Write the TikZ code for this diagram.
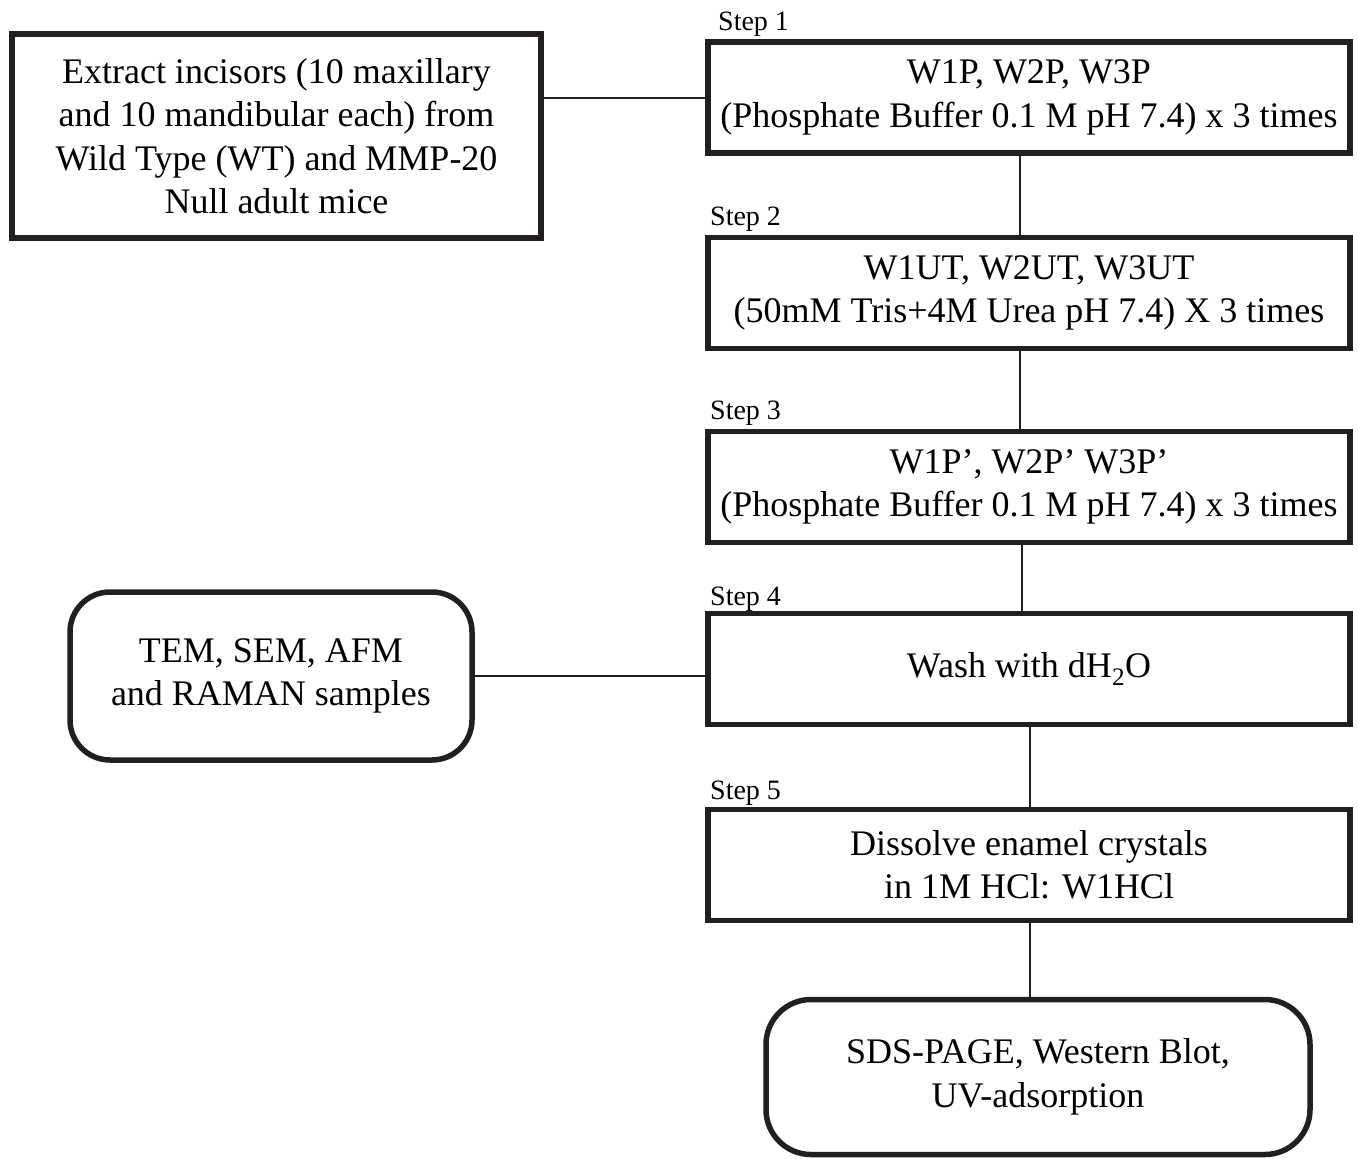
\documentclass[tikz,border=0pt]{standalone}
\usepackage{fontspec}
\setmainfont{Liberation Serif}
\usepackage{tikz}
\usetikzlibrary{positioning}
\definecolor{boxline}{HTML}{231F20}
\tikzset{
  every picture/.style={line cap=butt, line join=miter},
  stepbox/.style={draw=boxline, line width=5.5pt, minimum width=642pt, minimum height=111pt,
    align=center, inner sep=0pt, font=\fontsize{36}{43.5}\selectfont},
  startbox/.style={stepbox, minimum width=529pt, minimum height=204pt},
  outbox/.style={stepbox, rounded corners=40pt},
  steplbl/.style={font=\fontsize{28}{32}\selectfont, inner sep=0pt, anchor=base west},
  link/.style={draw=boxline, line width=2.8pt},
}
\begin{document}
\begin{tikzpicture}[x=1pt, y=-1pt]
\useasboundingbox (0,0) rectangle (1358,1159);
% left column
\node[startbox] (extract) at (276.5,136) {Extract incisors (10 maxillary\\and 10 mandibular each) from\\Wild Type (WT) and MMP-20\\Null adult mice};
\node[outbox, minimum width=402pt, minimum height=168pt] (imaging) at (271,676) {TEM, SEM, AFM\\and RAMAN samples};
% steps
\node[stepbox] (w1) at (1029,97.5) {W1P, W2P, W3P\\(Phosphate Buffer 0.1 M pH 7.4) x 3 times};
\node[stepbox] (w2) at (1029,293) {W1UT, W2UT, W3UT\\(50mM Tris+4M Urea pH 7.4) X 3 times};
\node[stepbox] (w3) at (1029,487) {W1P’, W2P’ W3P’\\(Phosphate Buffer 0.1 M pH 7.4) x 3 times};
\node[stepbox] (w4) at (1029,669) {Wash with dH\textsubscript{2}O};
\node[stepbox] (w5) at (1029,865) {Dissolve enamel crystals\\in 1M HCl: W1HCl};
\node[outbox, minimum width=544pt, minimum height=155pt, rounded corners=45pt] (assay) at (1038,1077) {SDS-PAGE, Western Blot,\\UV-adsorption};
% step labels
\node[steplbl] (s1) at (718,30) {Step 1};
\node[steplbl] (s2) at (710,225) {Step 2};
\node[steplbl] (s3) at (710,419) {Step 3};
\node[steplbl] (s4) at (710,605) {Step 4};
\node[steplbl] (s5) at (710,799) {Step 5};
% connectors
\draw[link] (extract.east |- 0,98) -- (w1.west |- 0,98);
\draw[link] (imaging.east |- 0,676) -- (w4.west |- 0,676);
\draw[link] ([xshift=-9pt]w1.south) -- ([xshift=-9pt]w2.north);
\draw[link] ([xshift=-9pt]w2.south) -- ([xshift=-9pt]w3.north);
\draw[link] ([xshift=-7pt]w3.south) -- ([xshift=-7pt]w4.north);
\draw[link] ([xshift=1pt]w4.south) -- ([xshift=1pt]w5.north);
\draw[link] ([xshift=1pt]w5.south) -- ([xshift=1pt]w5.south |- assay.north);
\end{tikzpicture}
\end{document}
